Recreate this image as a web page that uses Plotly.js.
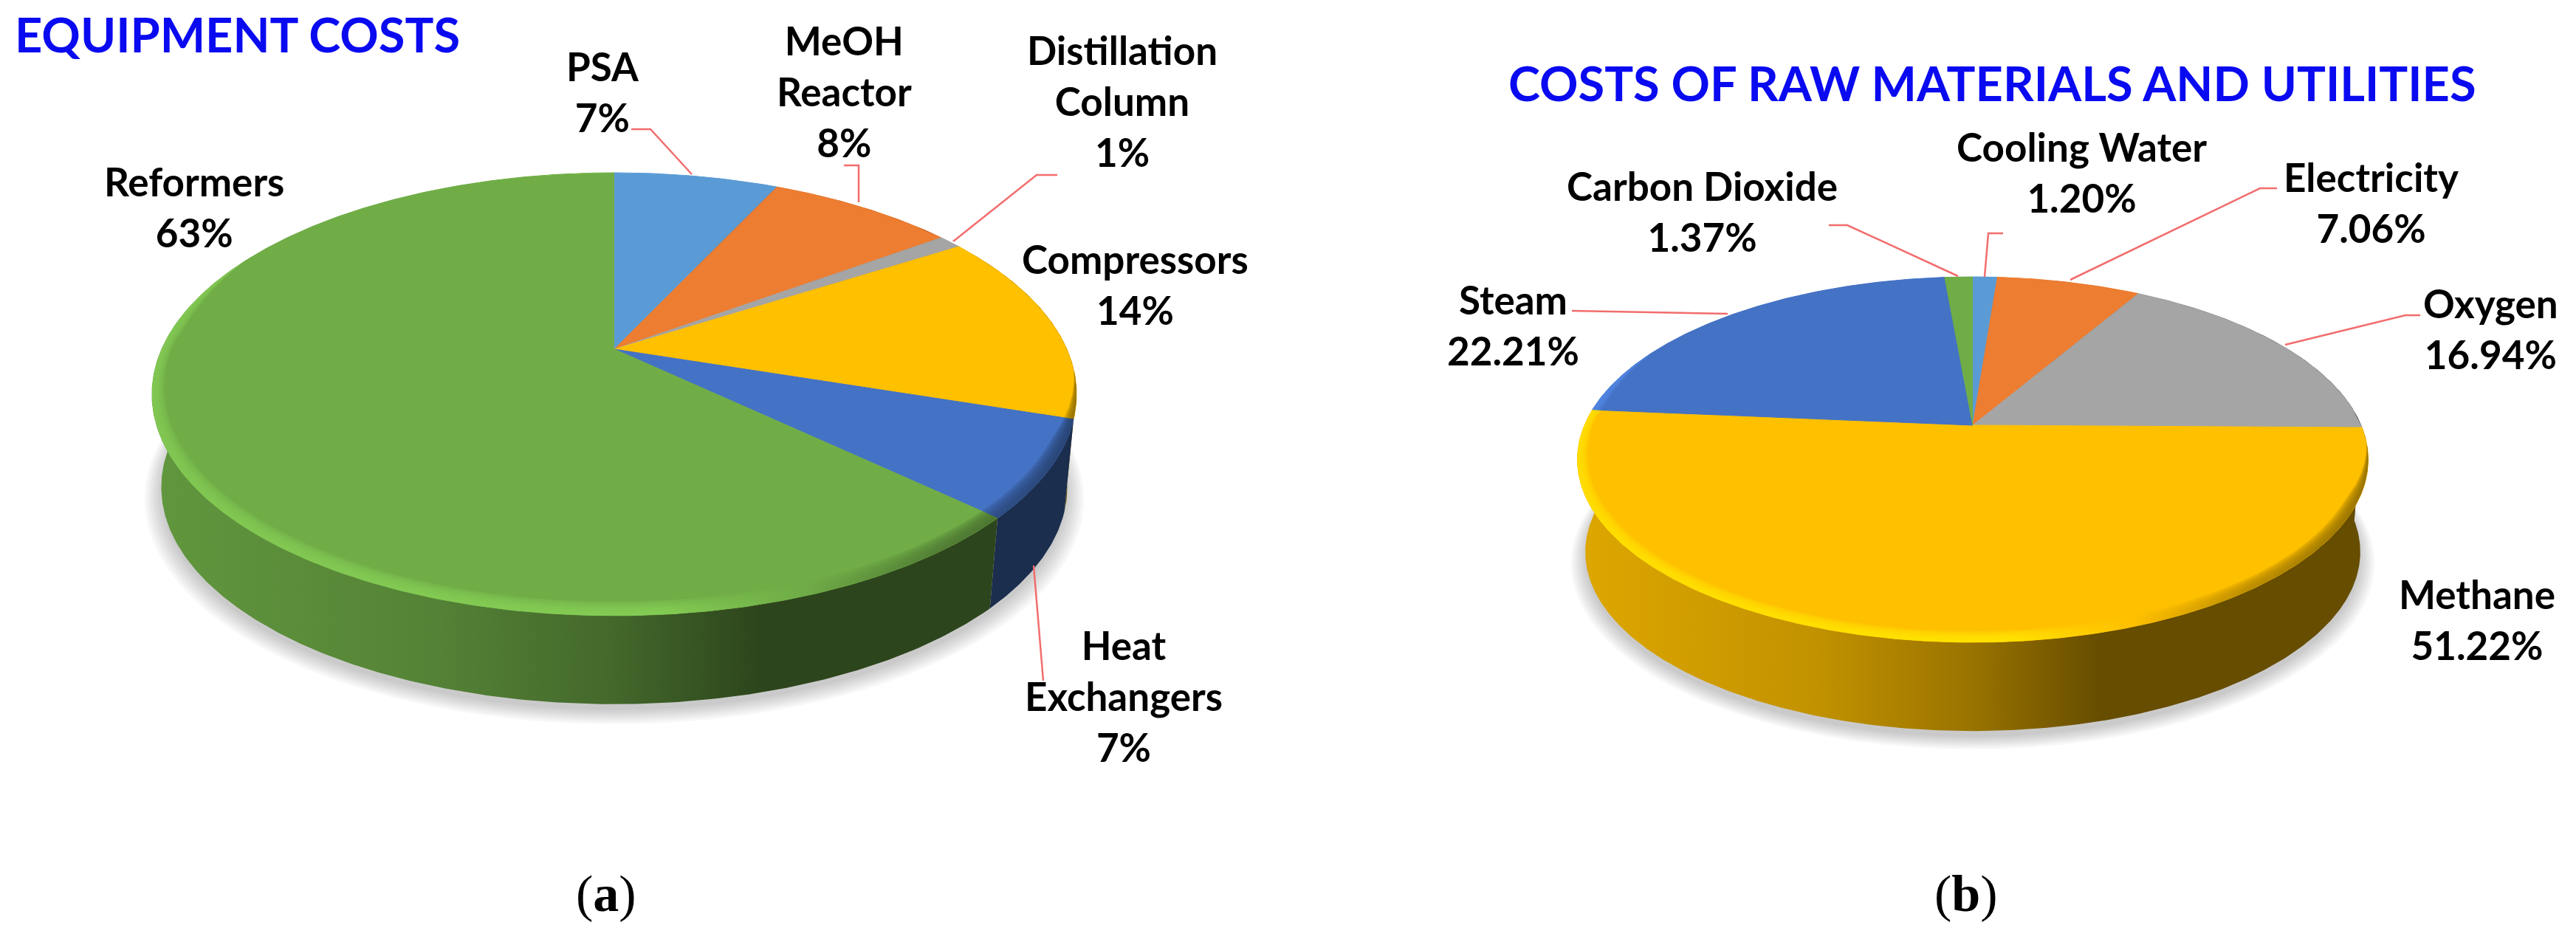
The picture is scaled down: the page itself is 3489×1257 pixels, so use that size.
<!DOCTYPE html>
<html>
<head>
<meta charset="utf-8">
<script src="https://cdn.plot.ly/plotly-3.0.1.min.js"></script>
<style>
  html, body { margin: 0; padding: 0; background: #fff; overflow: hidden; }
</style>
</head>
<body>
<div id="chart"></div>
<script>
// values as printed on the chart, clockwise from 12 o'clock
const equipmentLabels = ['PSA', 'MeOH<br>Reactor', 'Distillation<br>Column', 'Compressors', 'Heat<br>Exchangers', 'Reformers'];
const equipmentValues = [7, 8, 1, 14, 7, 63];
const equipmentColors = ['#5B9BD5', '#ED7D31', '#A5A5A5', '#FFC000', '#4472C4', '#70AD47'];

const rawLabels = ['Cooling Water', 'Electricity', 'Oxygen', 'Methane', 'Steam', 'Carbon Dioxide'];
const rawValues = [1.20, 7.06, 16.94, 51.22, 22.21, 1.37];
const rawColors = ['#5B9BD5', '#ED7D31', '#A5A5A5', '#FFC000', '#4472C4', '#70AD47'];

// disc geometry: apex position, projected radii, perspective, wall height
const discA = { x: 832, y: 473, a: 613, b: 287.6, k: 0.2033, h: 127, left: 204, right: 1456 };
const discB = { x: 2672, y: 576, a: 526, b: 238.8, k: 0.188, h: 126, left: 2136, right: 3208 };

const wallStops = [[0, 0.87], [0.3, 0.76], [0.5, 0.6], [0.66, 0.4], [1, 0.4]];
const bevelStops = [[0, 1.17], [0.55, 1.2], [0.7, 1], [0.85, 0.7], [1, 0.55]];
const bevelWidths = [0.042, 0.035, 0.028, 0.021, 0.014, 0.007];

function shade(hex, f, alpha) {
    const c = [1, 3, 5].map(i => Math.min(255, Math.round(parseInt(hex.substr(i, 2), 16) * f)));
    return `rgba(${c[0]},${c[1]},${c[2]},${alpha === undefined ? 1 : alpha})`;
}

// perspective projection of a point on the unit disc
function project(d, theta, r, drop, scale) {
    const u = r * Math.sin(theta), v = r * Math.cos(theta), w = 1 + d.k * v;
    return [d.x + scale * d.a * u / w, d.y + drop - scale * d.b * v / w];
}

function arc(d, t1, t2, rFn, drop, scale) {
    const n = Math.max(2, Math.ceil(Math.abs(t2 - t1) / 0.01));
    const pts = [];
    for (let i = 0; i <= n; i++) {
        const t = t1 + (t2 - t1) * i / n;
        pts.push(project(d, t, rFn(t), drop, scale));
    }
    return pts;
}

function polygon(pts, color, gradient) {
    const tr = {
        type: 'scatter', mode: 'lines', fill: 'toself', hoverinfo: 'skip', showlegend: false,
        x: pts.map(p => p[0]), y: pts.map(p => p[1]), line: { width: 0 }, fillcolor: color
    };
    if (gradient) tr.fillgradient = gradient;
    return tr;
}

function bevelTaper(t) {
    // the left rim catches the light earlier than the right one
    const edge = Math.sin(t) < 0 ? 0.45 : -0.1;
    const along = Math.max(0, Math.min(1, (edge - Math.cos(t)) / 0.3));
    return along * (0.5 + 0.5 * Math.abs(Math.cos(t)));
}

function drawPie(d, values, colors) {
    const total = values.reduce((a, b) => a + b, 0);
    const walls = [], tops = [], bevels = [], shadow = [];
    const one = () => 1;
    const span = { start: d.left, stop: d.right };

    // soft shadow under the disc
    for (let i = 0; i < 7; i++) {
        const pts = arc(d, 0, 2 * Math.PI, one, d.h + 8 + i, 0.98 + i * 0.006);
        shadow.push(polygon(pts, 'rgba(0,0,0,0.03)'));
    }

    let cum = 0;
    values.forEach((val, i) => {
        const t1 = cum / total * 2 * Math.PI;
        cum += val;
        const t2 = cum / total * 2 * Math.PI;

        const wall = arc(d, t1, t2, one, 0, 1).concat(arc(d, t2, t1, one, d.h, 0.98));
        walls.push(polygon(wall, colors[i], Object.assign({
            type: 'horizontal',
            colorscale: wallStops.map(s => [s[0], shade(colors[i], s[1])])
        }, span)));

        const top = [[d.x, d.y]].concat(arc(d, t1, t2, one, 0, 1));
        tops.push(polygon(top, colors[i]));
        tops[tops.length - 1].line = { width: 1, color: colors[i] };

        // bevel along the front rim, layered so it fades inward
        bevelWidths.forEach(width => {
            const rFn = t => 1 - width * bevelTaper(t);
            const band = arc(d, t1, t2, one, 0, 1).concat(arc(d, t2, t1, rFn, 0, 1));
            bevels.push(polygon(band, colors[i], Object.assign({
                type: 'horizontal',
                colorscale: bevelStops.map(s => [s[0], shade(colors[i], s[1], 0.3)])
            }, span)));
        });
    });
    return shadow.concat(walls, tops, bevels);
}

function label(text, x, y) {
    return {
        text: `<b>${text}</b>`, x: x, y: y, xref: 'x', yref: 'y', showarrow: false,
        align: 'center', xanchor: 'center', yanchor: 'middle',
        font: { family: 'Lato', size: 53, color: '#000' }
    };
}

function leader(points) {
    return {
        type: 'path', xref: 'x', yref: 'y',
        path: 'M' + points.map(p => p.join(',')).join('L'),
        line: { color: '#F26D6D', width: 2.5 }
    };
}

const fmtA = i => `${equipmentLabels[i]}<br>${equipmentValues[i]}%`;
const fmtB = i => `${rawLabels[i]}<br>${rawValues[i].toFixed(2)}%`;

const annotations = [
    label(fmtA(0), 816, 124), label(fmtA(1), 1143, 123), label(fmtA(2), 1520, 136),
    label(fmtA(3), 1537, 385), label(fmtA(4), 1522, 942), label(fmtA(5), 263, 280),
    label(fmtB(0), 2819, 233), label(fmtB(1), 3211, 274), label(fmtB(2), 3373, 445),
    label(fmtB(3), 3355, 839), label(fmtB(4), 2049, 440), label(fmtB(5), 2305, 286),
    {
        text: '<b>EQUIPMENT COSTS</b>', x: 18, y: 46, xref: 'x', yref: 'y', showarrow: false,
        xanchor: 'left', yanchor: 'middle', font: { family: 'Lato', size: 65, color: '#0A0AF0' }
    },
    {
        text: '<b>COSTS OF RAW MATERIALS AND UTILITIES</b>', x: 2698, y: 112, xref: 'x', yref: 'y', showarrow: false,
        xanchor: 'center', yanchor: 'middle', font: { family: 'Lato', size: 65, color: '#0A0AF0' }
    },
    {
        text: '(<b>a</b>)', x: 821, y: 1210, xref: 'x', yref: 'y', showarrow: false,
        font: { family: 'Liberation Serif', size: 70, color: '#000' }
    },
    {
        text: '(<b>b</b>)', x: 2663, y: 1210, xref: 'x', yref: 'y', showarrow: false,
        font: { family: 'Liberation Serif', size: 70, color: '#000' }
    }
];

const shapes = [
    leader([[855, 175], [881, 175], [937, 236]]),
    leader([[1143, 224], [1163, 224], [1163, 274]]),
    leader([[1432, 237], [1404, 237], [1291, 327]]),
    leader([[1400, 766], [1413, 922]]),
    leader([[2713, 316], [2693, 316], [2688, 375]]),
    leader([[2477, 305], [2502, 305], [2652, 374]]),
    leader([[3084, 255], [3061, 255], [2804, 379]]),
    leader([[2129, 421], [2340, 425]]),
    leader([[3278, 427], [3258, 427], [3095, 467]])
];

const layout = {
    width: 3489, height: 1257,
    margin: { l: 0, r: 0, t: 0, b: 0 },
    paper_bgcolor: '#fff', plot_bgcolor: '#fff',
    xaxis: { range: [0, 3489], visible: false, fixedrange: true },
    yaxis: { range: [1257, 0], visible: false, fixedrange: true },
    showlegend: false, annotations: annotations, shapes: shapes
};

Plotly.newPlot('chart',
    drawPie(discA, equipmentValues, equipmentColors).concat(drawPie(discB, rawValues, rawColors)),
    layout, { displayModeBar: false, staticPlot: true });
</script>
</body>
</html>
